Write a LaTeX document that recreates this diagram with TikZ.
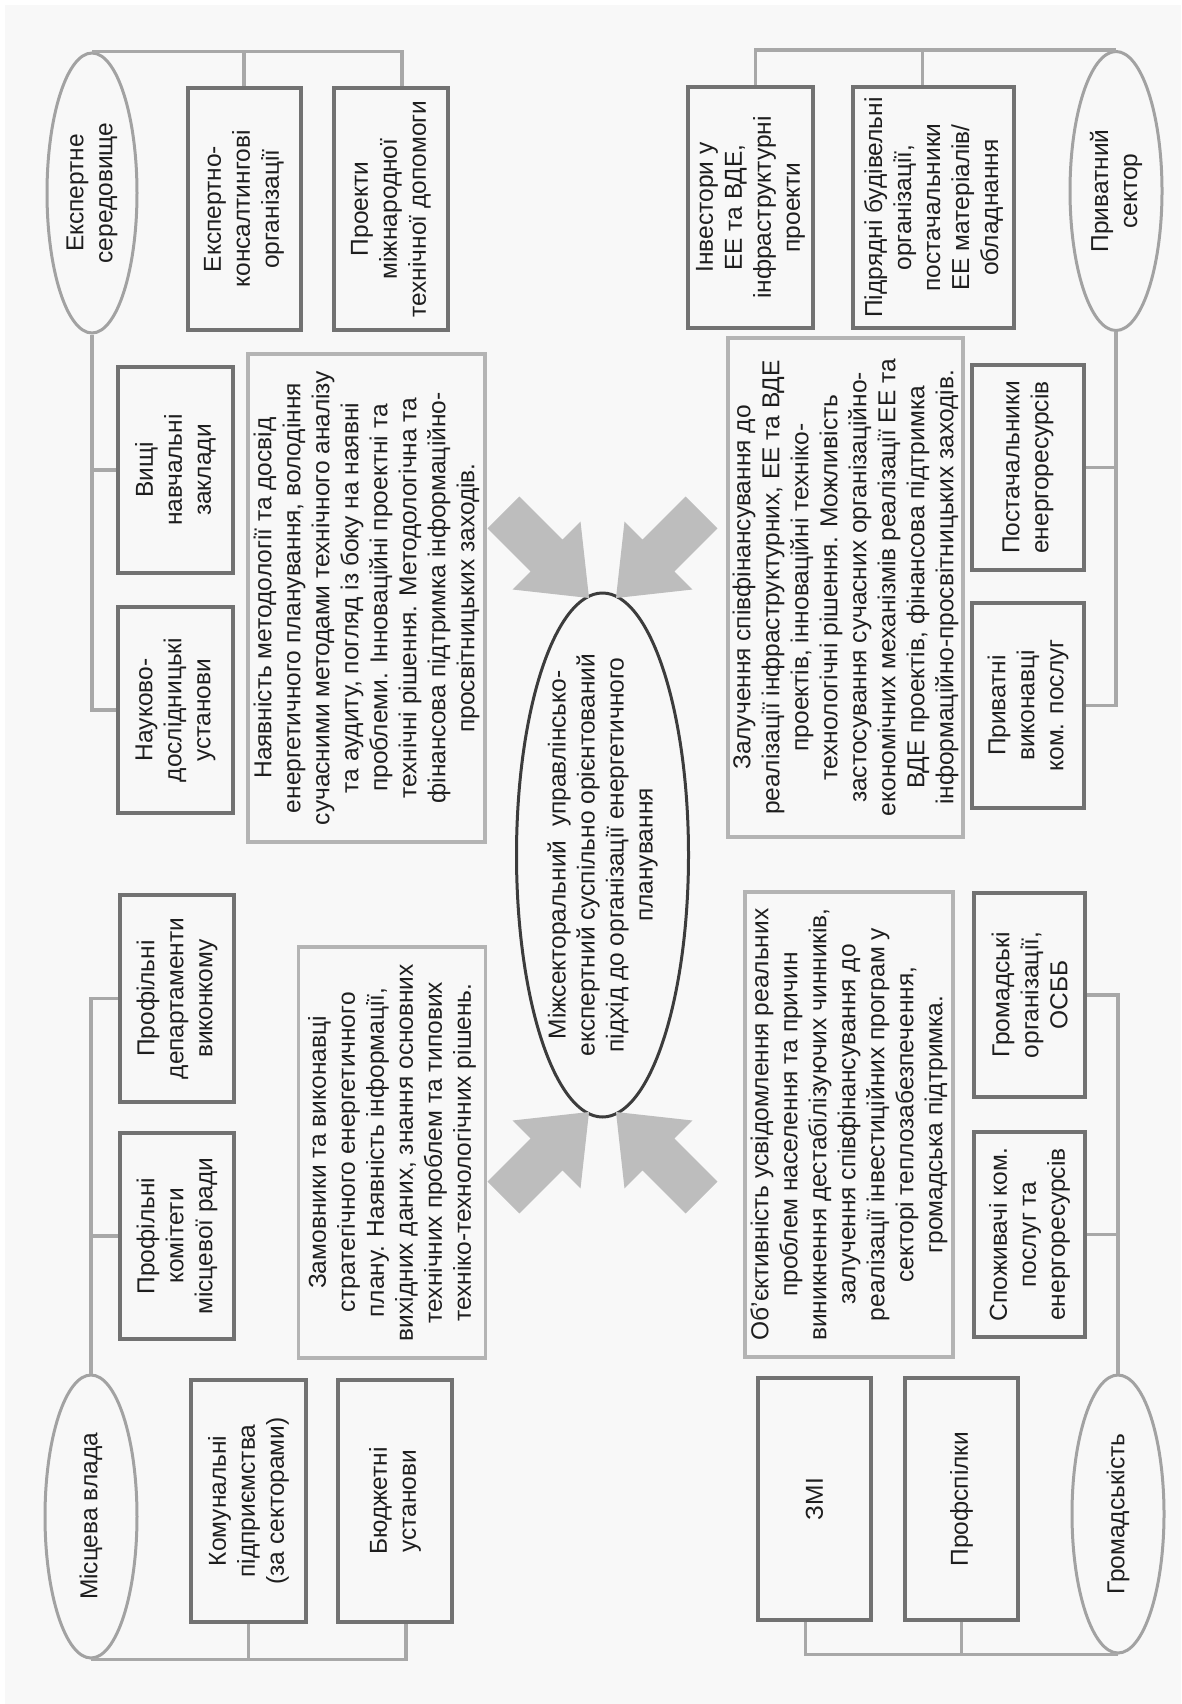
\documentclass[tikz,border=0pt]{standalone}
\usepackage{fontspec}
\setmainfont{Liberation Sans}
\usetikzlibrary{shapes.geometric,calc}
\definecolor{bg}{HTML}{F8F8F8}
\definecolor{boxline}{HTML}{727272}
\definecolor{txtline}{HTML}{B4B4B4}
\definecolor{ellline}{HTML}{A2A2A2}
\definecolor{conline}{HTML}{A8A8A8}
\definecolor{arrowfill}{HTML}{BDBDBD}
\definecolor{txt}{HTML}{1E1E1E}
\definecolor{midline}{HTML}{3C3C3C}
\tikzset{
  base/.style={rotate=90, align=center, text=txt, font=\fontsize{24.5}{29}\selectfont, inner sep=0pt},
  sz/.style 2 args={minimum height=#1, minimum width=#2},
  orgbox/.style={base, rectangle, draw=boxline, line width=4pt},
  infobox/.style={base, rectangle, draw=txtline, line width=3.5pt},
  grp/.style={base, ellipse, draw=ellline, line width=3pt},
  midell/.style={base, ellipse, draw=midline, line width=3pt, inner sep=-25pt},
  con/.style={draw=conline, line width=3.5pt},
  blockarr/.pic={\fill[arrowfill] (0,0) -- (-60,48) -- (-60,22.5) -- (-121,22.5) -- (-121,-22.5) -- (-60,-22.5) -- (-60,-48) -- cycle;}
}
\begin{document}
\begin{tikzpicture}[x=1pt,y=-1pt]
\fill[white] (0,0) rectangle (1181,1704);
\fill[bg] (5,5) rectangle (1181,1704);
\useasboundingbox (0,0) rectangle (1181,1704);

% top-left: expert environment
\node[grp, sz={90}{280}] (E1) at (92,193) {Експертне\\середовище};
\node[orgbox, sz={113}{242}] (A1) at (244,209) {Експертно-\\консалтингові\\організації};
\node[orgbox, sz={114}{242}] (A2) at (391,209) {Проекти\\міжнародної\\технічної допомоги};
\node[orgbox, sz={115}{206}] (B1) at (175.5,470) {Вищі\\навчальні\\заклади};
\node[orgbox, sz={115}{206}] (B2) at (175.5,710) {Науково-\\дослідницькі\\установи};
\node[infobox, sz={237}{488}] (T1) at (366.5,598) {Наявність методології та досвід\\енергетичного планування, володіння\\сучасними методами технічного аналізу\\та аудиту, погляд із боку на наявні\\проблеми. Інноваційні проектні та\\технічні рішення. Методологічна та\\фінансова підтримка інформаційно-\\просвітницьких заходів.};

% top-right: private sector
\node[orgbox, sz={125}{241}] (I1) at (750.5,207.5) {Інвестори у\\ЕЕ та ВДЕ,\\інфраструктурні\\проекти};
\node[orgbox, sz={161}{241}] (I2) at (933.5,207.5) {Підрядні будівельні\\організації,\\постачальники\\ЕЕ матеріалів/\\обладнання};
\node[grp, sz={92}{279}] (E2) at (1116,191) {Приватний\\сектор};
\node[infobox, sz={235}{499}] (T2) at (845.5,587.5) {Залучення співфінансування до\\реалізації інфраструктурних, ЕЕ та ВДЕ\\проектів, інноваційні техніко-\\технологічні рішення. Можливість\\застосування сучасних організаційно-\\економічних механізмів реалізації ЕЕ та\\ВДЕ проектів, фінансова підтримка\\інформаційно-просвітницьких заходів.};
\node[orgbox, sz={112}{205}] (P1) at (1028,467.5) {Постачальники\\енергоресурсів};
\node[orgbox, sz={112}{205}] (P2) at (1028,705.5) {Приватні\\виконавці\\ком. послуг};

% bottom-left: local authority
\node[orgbox, sz={114}{207}] (D1) at (177,998.5) {Профільні\\департаменти\\виконкому};
\node[orgbox, sz={114}{206}] (D2) at (177,1236) {Профільні\\комітети\\місцевої ради};
\node[infobox, sz={187}{411}] (T3) at (392,1152.5) {Замовники та виконавці\\стратегічного енергетичного\\плану. Наявність інформації,\\вихідних даних, знання основних\\технічних проблем та типових\\техніко-технологічних рішень.};
\node[grp, sz={92}{283}] (E3) at (91,1516.5) {Місцева влада};
\node[orgbox, sz={115}{242}] (K1) at (248.5,1501) {Комунальні\\підприємства\\(за секторами)};
\node[orgbox, sz={114}{242}] (K2) at (395,1501) {Бюджетні\\установи};

% bottom-right: community
\node[infobox, sz={208}{465}] (T4) at (849,1124.5) {Об’єктивність усвідомлення реальних\\проблем населення та причин\\виникнення дестабілізуючих чинників,\\залучення співфінансування до\\реалізації інвестиційних програм у\\секторі теплозабезпечення,\\громадська підтримка.};
\node[orgbox, sz={111}{204}] (G1) at (1029.5,995) {Громадські\\організації,\\ОСББ};
\node[orgbox, sz={111}{205}] (G2) at (1029.5,1234.5) {Споживачі ком.\\послуг та\\енергоресурсів};
\node[grp, sz={92}{278}] (E4) at (1118,1514) {Громадськість};
\node[orgbox, sz={113}{242}] (Z1) at (814.5,1499) {ЗМІ};
\node[orgbox, sz={113}{242}] (Z2) at (961.5,1499) {Профспілки};

% centre
\node[midell, sz={172}{524}] (C) at (602.5,855) {Міжсекторальний\ \ управлінсько-\\експертний суспільно орієнтований\\підхід до організації енергетичного\\планування};

% connectors
\draw[con] (E1.east) -| (A1.east);
\draw[con] (E1.east) -| ($(A2.east)+(11,0)$);
\draw[con] (E1.west) |- (B1.north);
\draw[con] (E1.west) |- (B2.north);

\draw[con] (E2.east) -| ($(I1.east)+(5,0)$);
\draw[con] (E2.east) -| ($(I2.east)+(-11,0)$);
\draw[con] (E2.west) |- (P1.south);
\draw[con] (E2.west) |- (P2.south);

\draw[con] (E3.east) |- (D2.north);
\draw[con] (E3.east) |- (D1.north);
\draw[con] (E3.west) -| (K1.west);
\draw[con] (E3.west) -| ($(K2.west)+(11,0)$);

\draw[con] (E4.east) |- (G2.south);
\draw[con] (E4.east) |- (G1.south);
\draw[con] (E4.west) -| ($(Z1.west)+(-9,0)$);
\draw[con] (E4.west) -| (Z2.west);

% block arrows toward the centre
\pic[rotate=-45] at (589,598) {blockarr};
\pic[rotate=-135] at (616,598) {blockarr};
\pic[rotate=45] at (589,1112) {blockarr};
\pic[rotate=135] at (616,1112) {blockarr};
\end{tikzpicture}
\end{document}
